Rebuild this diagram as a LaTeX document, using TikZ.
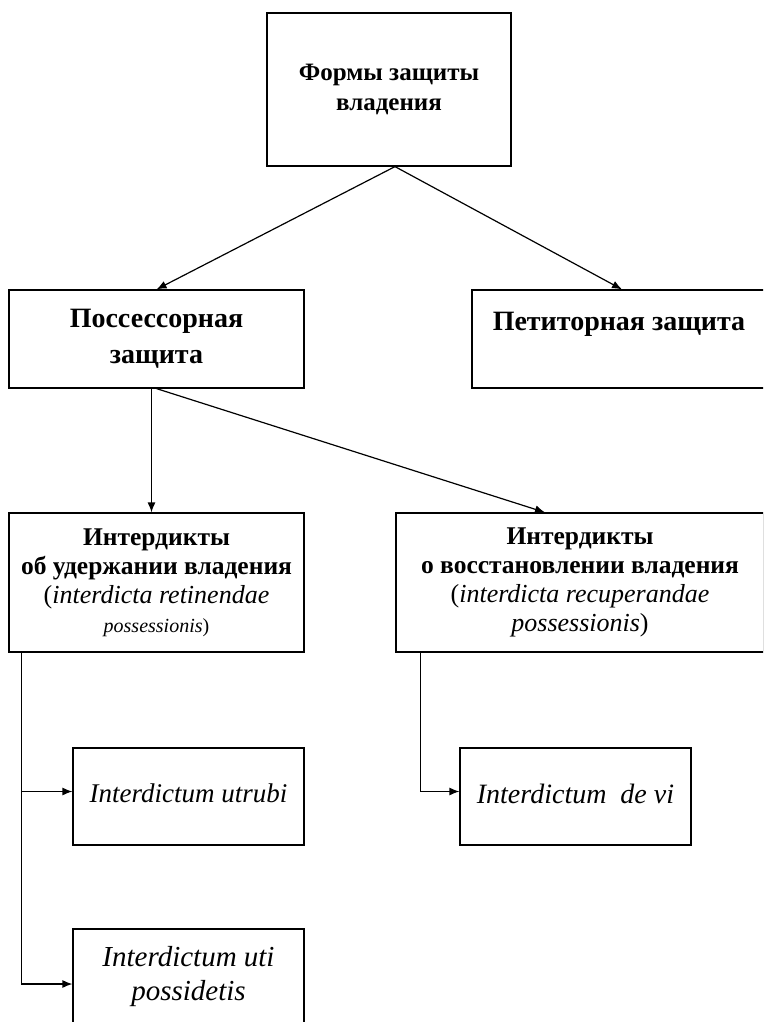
\documentclass[tikz,border=0pt]{standalone}
\usepackage{fontspec}
\setmainfont{Liberation Serif}
\usetikzlibrary{arrows.meta,calc}

\newcommand{\topfont}{\fontsize{25}{30}\selectfont\bfseries}
\newcommand{\midfont}{\fontsize{28}{36}\selectfont\bfseries}
\newcommand{\intfont}{\fontsize{25.5}{29}\selectfont\bfseries}
\newcommand{\latfont}{\fontsize{26}{29}\selectfont}
\newcommand{\smalllat}{\fontsize{20}{29}\selectfont}

\tikzset{
  block/.style={draw, line width=1.2pt, inner sep=0pt, align=center},
}

\begin{document}
\begin{tikzpicture}[x=1pt, y=-1pt, line width=1.2pt, >={Latex[length=10pt,width=8pt]}]
\useasboundingbox (0,0) rectangle (763,1022);
\clip (0,0) rectangle (763,1022);

\node [block, font=\topfont, minimum width=244pt, minimum height=153pt] at (389, 89.5) (forms) {Формы защиты\\владения};

\node [block, font=\midfont, minimum width=295pt, minimum height=98pt] at (156.5, 339) (poss) {Поссессорная\\защита};
\node [block, font=\midfont, minimum width=294pt, minimum height=98pt] at (619, 339) (pet) {Петиторная защита\\\mbox{}};

\node [block, font=\intfont, minimum width=295pt, minimum height=139pt] at (156.5, 582.5) (retin) {Интердикты\\об удержании владения\\
  {\latfont\mdseries (\textit{interdicta retinendae}}\\{\smalllat\mdseries\textit{possessionis})}};
\node [block, font=\intfont, minimum width=368pt, minimum height=139pt] at (580, 582.5) (recup) {Интердикты\\о восстановлении владения\\
  {\latfont\mdseries (\textit{interdicta recuperandae}}\\{\latfont\mdseries\textit{possessionis})}};

\node [block, font=\fontsize{27}{34}\selectfont\itshape, minimum width=231pt, minimum height=97pt, text depth=6pt] at (188.5, 796.5) (utrubi) {Interdictum utrubi};
\node [block, font=\fontsize{29}{34}\selectfont\itshape, minimum width=231pt, minimum height=95pt] at (188.5, 976.5) (uti) {Interdictum uti\\possidetis};
\node [block, font=\fontsize{28}{34}\selectfont\itshape, minimum width=231pt, minimum height=97pt, text depth=6pt] at (575.5, 796.5) (devi) {Interdictum~ de vi};

%\draw [->] (forms) -- (poss);
\draw [->] ($(forms.south)+(6,0)$) -- (poss.north);
\draw [->] ($(forms.south)+(6,0)$) -- ($(pet.north)+(3,0)$);

\draw [->] ($(poss.south)+(-5,0)$) -- ($(retin.north)+(-5,0)$);
\draw [->] (poss.south) -- ($(recup.north)+(-35,0)$);

\draw [->] ($(retin.south west)+(13,0)$) |- ($(utrubi.west)+(0,-5)$);
\draw [->] ($(retin.south west)+(13,0)$) |- ($(uti.west)+(0,7.5)$);

\draw [->] ($(recup.south west)+(25,0)$) |- ($(devi.west)+(0,-5)$);

\end{tikzpicture}
\end{document}
